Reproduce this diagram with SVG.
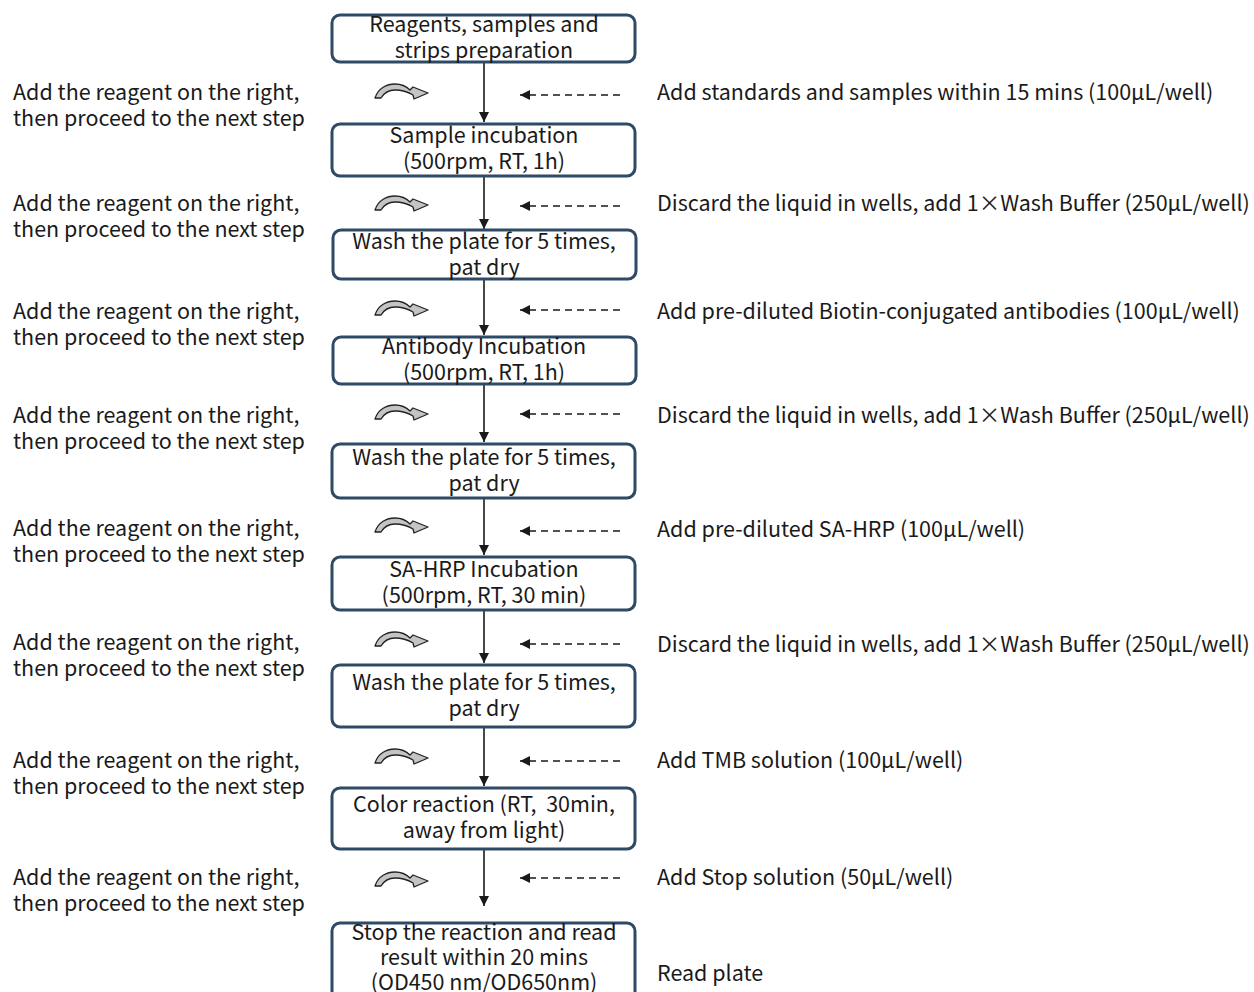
<svg xmlns="http://www.w3.org/2000/svg" width="1254" height="992" viewBox="0 0 1254 992">
<defs>
<style>
text{font-family:"Noto Sans CJK SC","Noto Sans",sans-serif;font-size:21.5px;fill:#1a1a1a}
.c{text-anchor:middle}
.box{fill:#fff;stroke:#2f4a66;stroke-width:3}
.conn{stroke:#1a1a1a;stroke-width:1.6;fill:none}
.dash{stroke:#1a1a1a;stroke-width:1.6;stroke-dasharray:7 5;fill:none}
.ic{fill:#c4c4c4;stroke:#222;stroke-width:1.3;stroke-linejoin:round}
</style>
<marker id="ah" viewBox="0 0 10 10" refX="10" refY="5" markerWidth="10" markerHeight="10" markerUnits="userSpaceOnUse" orient="auto">
<path d="M0,0 L10,5 L0,10 Z" fill="#1a1a1a"/>
</marker>
<path id="curl" class="ic" d="M2,14 C5,4 14,0 22,0 C29,0 34,3 37,6 L40,3 L55,9 L41,15 L40,11 C35,8 29,6 22,6 C15,6 11,9 8,14 Z"/>
</defs>
<rect width="1254" height="992" fill="#fff"/>

<g id="connectors">
<line class="conn" x1="484" y1="62" x2="484" y2="122" marker-end="url(#ah)"/>
<line class="conn" x1="484" y1="176" x2="484" y2="229" marker-end="url(#ah)"/>
<line class="conn" x1="484" y1="279" x2="484" y2="335" marker-end="url(#ah)"/>
<line class="conn" x1="484" y1="384" x2="484" y2="442" marker-end="url(#ah)"/>
<line class="conn" x1="484" y1="498" x2="484" y2="555" marker-end="url(#ah)"/>
<line class="conn" x1="484" y1="610" x2="484" y2="663" marker-end="url(#ah)"/>
<line class="conn" x1="484" y1="727" x2="484" y2="786" marker-end="url(#ah)"/>
<line class="conn" x1="484" y1="849" x2="484" y2="906" marker-end="url(#ah)"/>
<line class="dash" x1="620" y1="95" x2="520" y2="95" marker-end="url(#ah)"/>
<line class="dash" x1="620" y1="206" x2="520" y2="206" marker-end="url(#ah)"/>
<line class="dash" x1="620" y1="310" x2="520" y2="310" marker-end="url(#ah)"/>
<line class="dash" x1="620" y1="414" x2="520" y2="414" marker-end="url(#ah)"/>
<line class="dash" x1="620" y1="531" x2="520" y2="531" marker-end="url(#ah)"/>
<line class="dash" x1="620" y1="644" x2="520" y2="644" marker-end="url(#ah)"/>
<line class="dash" x1="620" y1="761" x2="520" y2="761" marker-end="url(#ah)"/>
<line class="dash" x1="620" y1="878" x2="520" y2="878" marker-end="url(#ah)"/>
</g>

<g id="icons">
<use href="#curl" x="373" y="84"/>
<use href="#curl" x="373" y="196"/>
<use href="#curl" x="373" y="301"/>
<use href="#curl" x="373" y="405"/>
<use href="#curl" x="373" y="518"/>
<use href="#curl" x="373" y="632"/>
<use href="#curl" x="373" y="749"/>
<use href="#curl" x="373" y="872"/>
</g>

<g id="step1"><rect class="box" x="332" y="15" width="303" height="47" rx="8"/>
<text class="c" x="484" y="32">Reagents, samples and</text><text class="c" x="484" y="58">strips preparation</text></g>
<g id="step2"><rect class="box" x="332" y="124" width="303" height="52" rx="8"/>
<text class="c" x="484" y="143">Sample incubation</text><text class="c" x="484" y="169">(500rpm, RT, 1h)</text></g>
<g id="step3"><rect class="box" x="333" y="230" width="303" height="49" rx="8"/>
<text class="c" x="484" y="249">Wash the plate for 5 times,</text><text class="c" x="484" y="275">pat dry</text></g>
<g id="step4"><rect class="box" x="333" y="337" width="303" height="47" rx="8"/>
<text class="c" x="484" y="354">Antibody Incubation</text><text class="c" x="484" y="380">(500rpm, RT, 1h)</text></g>
<g id="step5"><rect class="box" x="332" y="444" width="303" height="54" rx="8"/>
<text class="c" x="484" y="465">Wash the plate for 5 times,</text><text class="c" x="484" y="491">pat dry</text></g>
<g id="step6"><rect class="box" x="332" y="557" width="303" height="53" rx="8"/>
<text class="c" x="484" y="577">SA-HRP Incubation</text><text class="c" x="484" y="603">(500rpm, RT, 30 min)</text></g>
<g id="step7"><rect class="box" x="332" y="665" width="303" height="62" rx="8"/>
<text class="c" x="484" y="690">Wash the plate for 5 times,</text><text class="c" x="484" y="716">pat dry</text></g>
<g id="step8"><rect class="box" x="332" y="788" width="303" height="61" rx="8"/>
<text class="c" x="484" y="812">Color reaction (RT,&#160; 30min,</text><text class="c" x="484" y="838">away from light)</text></g>
<g id="step9"><rect class="box" x="332" y="923" width="303" height="90" rx="8"/>
<text class="c" x="484" y="940">Stop the reaction and read</text><text class="c" x="484" y="965">result within 20 mins</text><text class="c" x="484" y="990">(OD450 nm/OD650nm)</text></g>

<g id="left-notes">
<text x="13" y="100">Add the reagent on the right,</text><text x="13" y="126">then proceed to the next step</text>
<text x="13" y="211">Add the reagent on the right,</text><text x="13" y="237">then proceed to the next step</text>
<text x="13" y="319">Add the reagent on the right,</text><text x="13" y="345">then proceed to the next step</text>
<text x="13" y="423">Add the reagent on the right,</text><text x="13" y="449">then proceed to the next step</text>
<text x="13" y="536">Add the reagent on the right,</text><text x="13" y="562">then proceed to the next step</text>
<text x="13" y="650">Add the reagent on the right,</text><text x="13" y="676">then proceed to the next step</text>
<text x="13" y="768">Add the reagent on the right,</text><text x="13" y="794">then proceed to the next step</text>
<text x="13" y="885">Add the reagent on the right,</text><text x="13" y="911">then proceed to the next step</text>
</g>

<g id="right-notes">
<text x="657" y="100">Add standards and samples within 15 mins (100μL/well)</text>
<text x="657" y="211">Discard the liquid in wells, add 1×Wash Buffer (250μL/well)</text>
<text x="657" y="319">Add pre-diluted Biotin-conjugated antibodies (100μL/well)</text>
<text x="657" y="423">Discard the liquid in wells, add 1×Wash Buffer (250μL/well)</text>
<text x="657" y="537">Add pre-diluted SA-HRP (100μL/well)</text>
<text x="657" y="652">Discard the liquid in wells, add 1×Wash Buffer (250μL/well)</text>
<text x="657" y="768">Add TMB solution (100μL/well)</text>
<text x="657" y="885">Add Stop solution (50μL/well)</text>
<text x="657" y="981">Read plate</text>
</g>
</svg>
